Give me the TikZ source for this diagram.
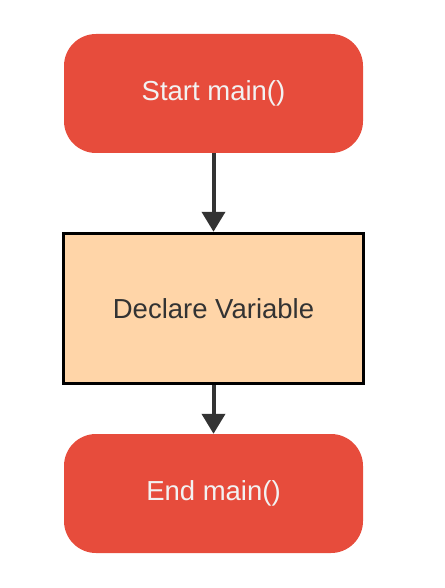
\documentclass[tikz,border=0pt]{standalone}
\usepackage{fontspec}
\setmainfont{Liberation Sans}
\usetikzlibrary{arrows.meta}
\definecolor{termred}{HTML}{E74C3C}
\definecolor{peach}{HTML}{FFD5A8}
\definecolor{darkline}{HTML}{333333}
\definecolor{lighttext}{HTML}{F2F2F2}
\begin{document}
\begin{tikzpicture}[x=1pt,y=-1pt,
  term/.style={draw=none,fill=termred,rounded corners=32pt,minimum width=299pt,minimum height=119pt,text=lighttext,font=\fontsize{27.5}{30}\selectfont,inner sep=0pt},
  procbox/.style={draw=black,line width=3.5pt,fill=peach,minimum width=300pt,minimum height=150pt,text=darkline,font=\fontsize{27.5}{30}\selectfont,inner sep=0pt},
  flow/.style={draw=darkline,line width=4pt,-{Triangle[width=23pt,length=20pt]}}]
\useasboundingbox (0,0) rectangle (444,588);
\node[term] (start) at (213.5,93.5) {Start main()};
\node[procbox] (decl) at (213.5,308.5) {Declare Variable};
\node[term] (end) at (213.5,493.5) {End main()};
\draw[flow] (start.south) -- (decl.north);
\draw[flow] (decl.south) -- (end.north);
\end{tikzpicture}
\end{document}
